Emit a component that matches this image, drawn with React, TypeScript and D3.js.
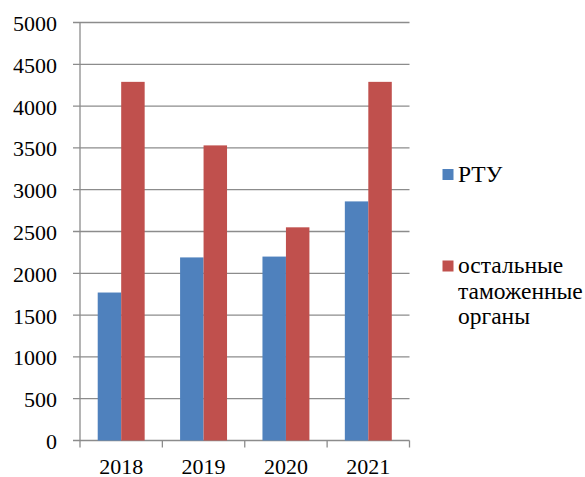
import React from 'react'
import * as d3 from 'd3'

const years = ['2018', '2019', '2020', '2021']
const rtu = [1770, 2190, 2200, 2860]
const others = [4290, 3530, 2550, 4290]
const yTicks = [0, 500, 1000, 1500, 2000, 2500, 3000, 3500, 4000, 4500, 5000]
const seriesNames = ['РТУ', 'остальные таможенные органы']
const legendLines = [['РТУ'], ['остальные', 'таможенные', 'органы']]
const colors = ['#4F81BD', '#C0504D']

const W = 585
const H = 477
const left = 80
const right = 409.5
const top = 22.5
const bottom = 440.5
const gridColor = '#8c8c8c'
const txt: React.CSSProperties = { fontFamily: 'Liberation Serif, serif', fontSize: '22px' }
const legTxt: React.CSSProperties = { fontFamily: 'Liberation Serif, serif', fontSize: '23.5px' }

export default function App() {
  const x = d3.scaleBand<string>().domain(years).range([left, right]).paddingInner(0.43).paddingOuter(0.215)
  const band = d3.scaleBand<string>().domain(years).range([left, right])
  const y = d3.scaleLinear().domain([0, 5000]).range([bottom, top])
  const barW = x.bandwidth() / 2
  const values = [rtu, others]
  const boundaries = [...years.map(yr => band(yr) as number), right]

  return (
    <div style={{ position: 'absolute', left: 0, top: 0 }}>
      <svg width={W} height={H} style={{ display: 'block', background: '#fff' }}>
        {/* сетка */}
        {yTicks.map(t => (
          <g key={t}>
            <line x1={left - 7} x2={right} y1={y(t)} y2={y(t)} stroke={gridColor} strokeWidth={1.3} />
            <text x={57} y={y(t) + 8.5} textAnchor="end" style={txt} fill="#000">{t}</text>
          </g>
        ))}
        <line x1={left} x2={left} y1={top} y2={bottom} stroke={gridColor} strokeWidth={1.3} />
        {boundaries.map((b, i) => (
          <line key={i} x1={b} x2={b} y1={bottom} y2={bottom + 7} stroke={gridColor} strokeWidth={1.3} />
        ))}
        {/* столбцы */}
        {values.map((vals, s) => (
          <g key={s}>
            {vals.map((v, i) => (
              <rect key={i} x={(x(years[i]) as number) + s * barW} y={y(v)} width={barW} height={y(0) - y(v)} fill={colors[s]} />
            ))}
          </g>
        ))}
        {years.map(yr => (
          <text key={yr} x={(band(yr) as number) + band.bandwidth() / 2} y={474} textAnchor="middle" style={txt} fill="#000">{yr}</text>
        ))}
        {/* легенда */}
        {seriesNames.map((name, s) => {
          const y0 = s === 0 ? 169 : 260.5
          return (
            <g key={name}>
              <rect x={442.5} y={y0} width={11} height={11} fill={colors[s]} />
              <text x={458} y={y0 + 12.5} style={legTxt} fill="#000">
                {legendLines[s].map((ln, j) => (
                  <tspan key={j} x={458} dy={j === 0 ? 0 : 25.5}>{ln}</tspan>
                ))}
              </text>
            </g>
          )
        })}
      </svg>
    </div>
  )
}
